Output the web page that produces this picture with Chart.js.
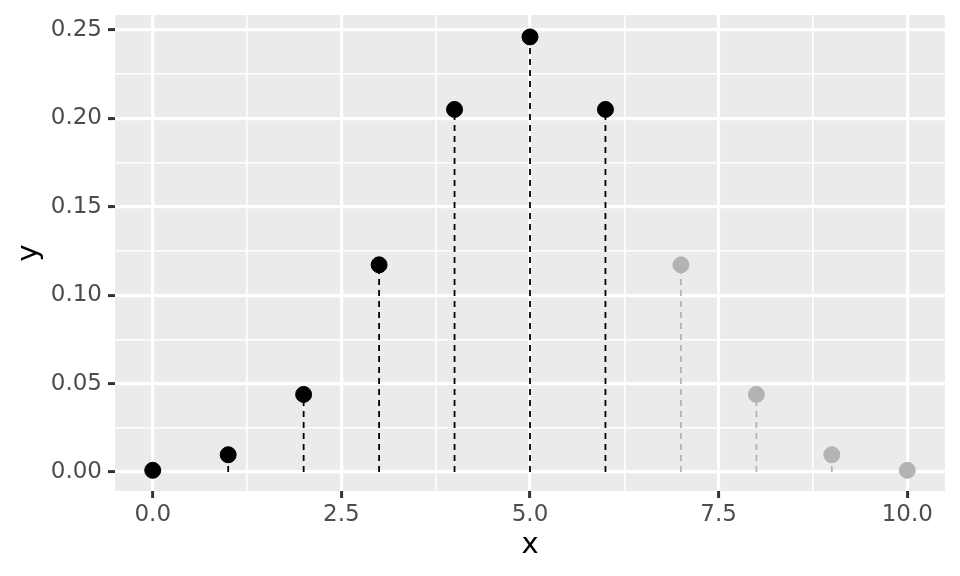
<!DOCTYPE html>
<html>
<head>
<meta charset="utf-8">
<script src="https://cdn.jsdelivr.net/npm/chart.js@4.4.1/dist/chart.umd.min.js"></script>
<style>
html,body{margin:0;padding:0;background:#fff;}
#wrap{width:960px;height:576px;}
</style>
</head>
<body>
<div id="wrap"><canvas id="c" width="960" height="576"></canvas></div>
<script>
// ---- data ----
const xValues = [0, 1, 2, 3, 4, 5, 6, 7, 8, 9, 10];
const yValues = [0.0010, 0.0098, 0.0439, 0.1172, 0.2051, 0.2461, 0.2051, 0.1172, 0.0439, 0.0098, 0.0010];
const groups  = ['in', 'in', 'in', 'in', 'in', 'in', 'in', 'out', 'out', 'out', 'out'];
const xMajorTicks = [0, 2.5, 5, 7.5, 10];
const xMinorTicks = [1.25, 3.75, 6.25, 8.75];
const yMajorTicks = [0, 0.05, 0.10, 0.15, 0.20, 0.25];
const yMinorTicks = [0.025, 0.075, 0.125, 0.175, 0.225];
const xLabels = ['0.0', '2.5', '5.0', '7.5', '10.0'];
const yLabels = ['0.00', '0.05', '0.10', '0.15', '0.20', '0.25'];

// ---- styling ----
const COLORS = { in: '#000000', out: '#B3B3B3' };
const FONT = 'DejaVu Sans';

function pointsFor(g) {
  return xValues.map((x, i) => groups[i] === g ? { x: x, y: yValues[i] } : null).filter(p => p);
}
function stemsFor(g) {
  const out = [];
  xValues.forEach((x, i) => {
    if (groups[i] !== g) return;
    out.push({ x: x, y: 0 }, { x: x, y: yValues[i] }, { x: x, y: null });
  });
  return out;
}

const panelBg = {
  id: 'panelBg',
  beforeDraw(chart) {
    const a = chart.chartArea, ctx = chart.ctx;
    ctx.save();
    ctx.fillStyle = '#EBEBEB';
    ctx.fillRect(a.left, a.top, a.right - a.left, a.bottom - a.top);
    ctx.restore();
  }
};

function isMajor(list, v) { return list.some(t => Math.abs(t - v) < 1e-9); }

const stemBase = { showLine: true, pointRadius: 0, pointHoverRadius: 0, borderWidth: 1.8, borderDash: [6, 5], spanGaps: false, order: 2 };

new Chart(document.getElementById('c'), {
  type: 'scatter',
  data: {
    datasets: [
      Object.assign({ data: stemsFor('in'), borderColor: COLORS.in }, stemBase),
      Object.assign({ data: stemsFor('out'), borderColor: COLORS.out }, stemBase),
      { data: pointsFor('in'), backgroundColor: COLORS.in, borderColor: COLORS.in, pointRadius: 8, pointBorderWidth: 1, pointHoverRadius: 8, order: 1 },
      { data: pointsFor('out'), backgroundColor: COLORS.out, borderColor: COLORS.out, pointRadius: 8, pointBorderWidth: 1, pointHoverRadius: 8, order: 1 }
    ]
  },
  options: {
    responsive: false,
    animation: false,
    events: [],
    layout: { padding: { top: 15, right: 15, left: 0, bottom: 0 } },
    plugins: { legend: { display: false }, tooltip: { enabled: false } },
    scales: {
      x: {
        type: 'linear', min: -0.5, max: 10.5,
        afterBuildTicks(s) { s.ticks = xMajorTicks.concat(xMinorTicks).sort((a, b) => a - b).map(v => ({ value: v })); },
        afterFit(s) { s.height = 85; s.paddingLeft = 0; s.paddingRight = 0; },
        border: { display: false },
        grid: {
          color: '#FFFFFF',
          lineWidth: c => isMajor(xMajorTicks, c.tick.value) ? 3.2 : 1.6,
          tickLength: 7,
          tickColor: c => isMajor(xMajorTicks, c.tick.value) ? '#333333' : 'rgba(0,0,0,0)',
          tickWidth: 3
        },
        ticks: {
          autoSkip: false, maxRotation: 0, padding: 3,
          color: '#4D4D4D', font: { family: FONT, size: 23 },
          callback: v => { const i = xMajorTicks.findIndex(t => Math.abs(t - v) < 1e-9); return i >= 0 ? xLabels[i] : ''; }
        },
        title: { display: true, text: 'x', color: '#000000', font: { family: FONT, size: 29 }, padding: { top: 0, bottom: 13 } }
      },
      y: {
        type: 'linear', min: -0.0107, max: 0.2585,
        afterBuildTicks(s) { s.ticks = yMajorTicks.concat(yMinorTicks).sort((a, b) => a - b).map(v => ({ value: v })); },
        afterFit(s) { s.width = 115; s.paddingTop = 0; s.paddingBottom = 0; },
        border: { display: false },
        grid: {
          color: '#FFFFFF',
          lineWidth: c => isMajor(yMajorTicks, c.tick.value) ? 3.2 : 1.6,
          tickLength: 7,
          tickColor: c => isMajor(yMajorTicks, c.tick.value) ? '#333333' : 'rgba(0,0,0,0)',
          tickWidth: 3
        },
        ticks: {
          autoSkip: false, padding: 6,
          color: '#4D4D4D', font: { family: FONT, size: 23 },
          callback: v => { const i = yMajorTicks.findIndex(t => Math.abs(t - v) < 1e-9); return i >= 0 ? yLabels[i] : ''; }
        },
        title: { display: true, text: 'y', color: '#000000', font: { family: FONT, size: 29 }, padding: { top: 12, bottom: 0 } }
      }
    }
  },
  plugins: [panelBg]
});
</script>
</body>
</html>
